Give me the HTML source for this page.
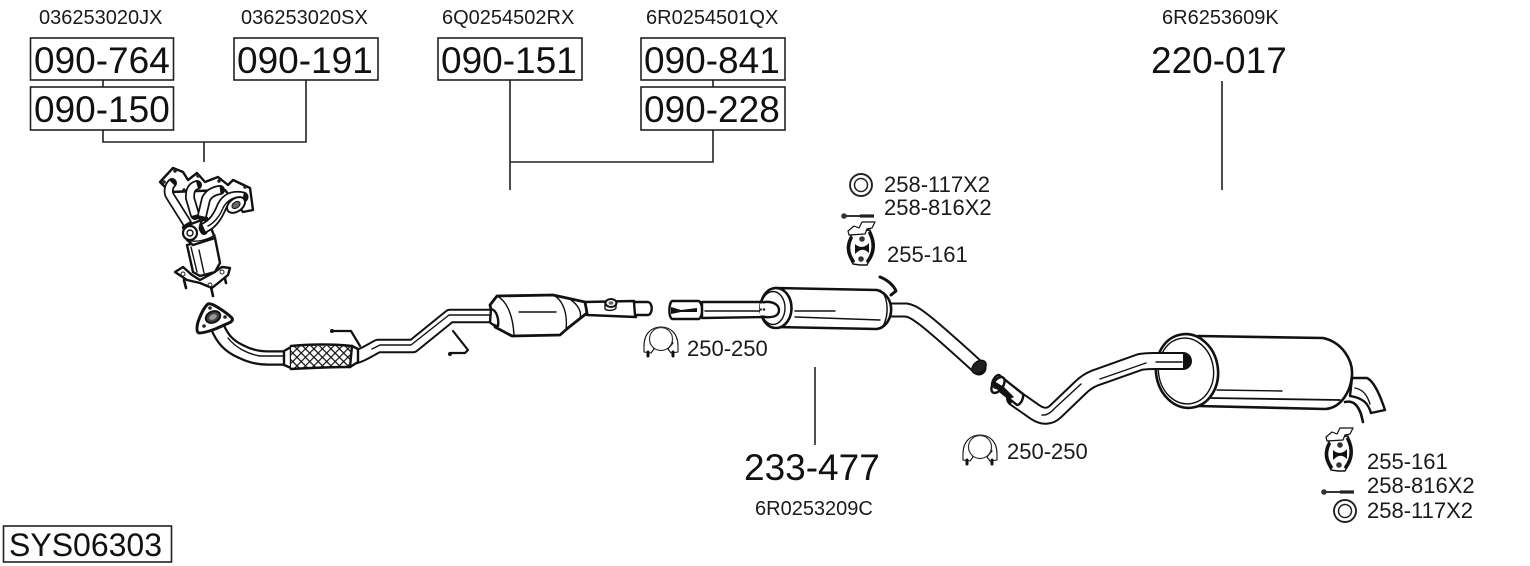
<!DOCTYPE html>
<html><head><meta charset="utf-8"><style>
html,body{margin:0;padding:0;background:#fff}
svg{display:block}
text{font-family:"Liberation Sans",Arial,sans-serif;fill:#1a1a1a}
.b{font-size:37px;fill:#111}
.s{font-size:20px}
.m{font-size:22px}
.box{fill:#fff;stroke:#222;stroke-width:1.6}
.ln{fill:none;stroke:#222;stroke-width:1.6}
.o{fill:#fff;stroke:#111;stroke-width:2.4;stroke-linejoin:round;stroke-linecap:round}
.t{fill:none;stroke:#111;stroke-width:1.4;stroke-linecap:round;stroke-linejoin:round}
.k{fill:none;stroke:#111;stroke-linejoin:round;stroke-linecap:round}
.w{fill:none;stroke:#fff;stroke-linejoin:round}
</style></head><body>
<svg width="1530" height="566" viewBox="0 0 1530 566" xmlns="http://www.w3.org/2000/svg">
<defs>
<pattern id="mesh" width="6" height="6" patternUnits="userSpaceOnUse" patternTransform="rotate(45)">
<rect width="6" height="6" fill="#fff"/><path d="M0 0H6M0 0V6" stroke="#111" stroke-width="2.4"/>
</pattern>
<symbol id="clamp" overflow="visible">
<path class="o" style="stroke-width:1.1" d="M-17 6C-17 -8 -8 -13 0 -13C8 -13 17 -8 17 6L17 12L10 13L7 9L12 3C8 -6 -4 -8 -10 3L-7 9L-10 13L-17 12Z"/>
<circle cx="0" cy="-1" r="11.500" fill="#fff" stroke="#333" stroke-width="1.200"/>
<path class="k" stroke-width="3" d="M-13 12V16M12 12V16"/>
</symbol>
<symbol id="hanger" overflow="visible">
<path class="o" style="stroke-width:1.400" d="M-9 -12C-15 -2 -15 10 -9 20L-2 21H5C10 12 14 0 8 -14Z"/>
<path class="o" style="stroke-width:1.200" d="M-14 -13L-8 -18L-3 -16L0 -22H13L10 -16L5 -15L3 -10L-13 -9Z"/>
<circle cx="0" cy="-5" r="2.800" fill="#333"/><circle cx="-1" cy="15" r="2.800" fill="#333"/>
<path d="M-7 0C-3 4 3 4 7 -1L7 9C2 4 -2 5 -7 10Z" fill="#111"/>
<path class="k" stroke-width="3.600" d="M-11 -6C-15 2 -14 10 -9 17M8 -11C13 -1 12 9 6 17"/>
</symbol>
<symbol id="bolt" overflow="visible">
<circle cx="0" cy="0" r="2.800" fill="#333"/>
<path d="M0 0H30" stroke="#333" stroke-width="2"/><path d="M16 0H30" stroke="#222" stroke-width="3.200"/>
</symbol>
<symbol id="washer" overflow="visible">
<circle r="11" fill="#fff" stroke="#222" stroke-width="1.900"/><circle r="6.500" fill="#fff" stroke="#222" stroke-width="1.500"/>
</symbol>
<clipPath id="fx"><path d="M291 346H352L350 368H291Z"/></clipPath>
</defs>

<!-- leaders -->
<path class="ln" d="M103 80V87M103 130V142H306V80M204 142V162M510 80V190M510 162H713V130M713 80V87M1222 81V190M815 367V445"/>

<!-- boxes -->
<rect class="box" x="30.500" y="38" width="143" height="42"/>
<rect class="box" x="30.500" y="87" width="143" height="43"/>
<rect class="box" x="234" y="38" width="144" height="42"/>
<rect class="box" x="438" y="38" width="144" height="42"/>
<rect class="box" x="641" y="38" width="144" height="42"/>
<rect class="box" x="641" y="87" width="144" height="43"/>
<rect class="box" x="3.500" y="526" width="168" height="36"/>

<text class="b" x="34" y="73">090-764</text>
<text class="b" x="34" y="122">090-150</text>
<text class="b" x="237" y="73">090-191</text>
<text class="b" x="441" y="73">090-151</text>
<text class="b" x="644" y="73">090-841</text>
<text class="b" x="644" y="122">090-228</text>
<text class="b" x="1151" y="73">220-017</text>
<text class="b" x="744" y="480">233-477</text>
<text x="9" y="556" style="font-size:32px;fill:#111">SYS06303</text>

<text class="s" x="39" y="24">036253020JX</text>
<text class="s" x="241" y="24">036253020SX</text>
<text class="s" x="442" y="24">6Q0254502RX</text>
<text class="s" x="646" y="24">6R0254501QX</text>
<text class="s" x="1162" y="24">6R6253609K</text>
<text class="s" x="755" y="515">6R0253209C</text>

<text class="m" x="884" y="192">258-117X2</text>
<text class="m" x="884" y="215">258-816X2</text>
<text class="m" x="887" y="262">255-161</text>
<text class="m" x="687" y="356">250-250</text>
<text class="m" x="1007" y="459">250-250</text>
<text class="m" x="1367" y="469">255-161</text>
<text class="m" x="1367" y="493">258-816X2</text>
<text class="m" x="1367" y="518">258-117X2</text>

<!-- manifold -->
<path class="k" stroke-width="2.600" d="M184 280L186 288M224 274L226 283M211 287L213 296"/>
<path class="o" d="M175 272L183 267L192 275L200 280L213 273L222 267L230 268L228 275L212 288L200 283L187 280Z"/>
<path class="o" d="M187 245L215 238L220 263L215 272L200 276L193 272Z"/>
<path class="t" d="M191 247L197 272M199 250L204 273"/>
<path class="o" d="M160 182L173 168L183 172L188 180L197 173L205 182L218 177L228 185L233 180L250 188L253 210L243 212L225 190L170 192Z"/>
<path class="k" stroke-width="10" d="M172 183C168 187 168 193 170 196L187 223"/>
<path class="w" stroke-width="6.500" d="M172 183C168 187 168 193 170 196L187 223"/>
<path class="k" stroke-width="10" d="M197 185C190 187 190 193 190 198L195 215"/>
<path class="w" stroke-width="6.500" d="M197 185C190 187 190 193 190 198L195 215"/>
<path class="k" stroke-width="10" d="M220 190C212 191 208 195 206 199L202 216"/>
<path class="w" stroke-width="6.500" d="M220 190C212 191 208 195 206 199L202 216"/>
<path class="o" d="M183 227L207 218L215 238L193 245L187 240Z"/>
<path class="t" d="M187 240C195 243 208 240 215 235"/>
<circle cx="190" cy="233" r="7" fill="#fff" stroke="#111" stroke-width="2.200"/><circle cx="190" cy="233" r="3" fill="none" stroke="#111" stroke-width="1.400"/>
<ellipse cx="204" cy="227" rx="4" ry="7" fill="#fff" stroke="#111" stroke-width="2"/>
<path class="k" stroke-width="11" d="M243 197C233 195 226 198 222 206C218 216 213 224 204 228"/>
<path class="w" stroke-width="7.500" d="M243 197C233 195 226 198 222 206C218 216 213 224 204 228"/>
<path class="t" d="M240 197C232 197 226 202 223 208C220 216 214 223 208 226"/>
<ellipse cx="236" cy="205" rx="10" ry="6.500" transform="rotate(-35 236 205)" fill="#fff" stroke="#111" stroke-width="2"/>
<ellipse cx="236" cy="205" rx="4.500" ry="3" transform="rotate(-35 236 205)" fill="#666" stroke="#111"/>
<circle cx="175" cy="171" r="1.800" fill="#222"/><circle cx="164" cy="182" r="1.800" fill="#222"/><circle cx="198" cy="176" r="1.800" fill="#222"/><circle cx="219" cy="181" r="1.800" fill="#222"/><circle cx="245" cy="187" r="1.800" fill="#222"/><circle cx="184" cy="190" r="1.800" fill="#222"/>
<circle cx="183" cy="274" r="2" fill="none" stroke="#222"/><circle cx="222" cy="272" r="2" fill="none" stroke="#222"/><circle cx="210" cy="285" r="2" fill="none" stroke="#222"/>

<!-- front pipe -->
<path class="k" stroke-width="15.500" d="M217 326C222 338 228 346 242 352C250 356 258 358 268 358H290"/>
<path class="w" stroke-width="11" d="M217 326C222 338 228 346 242 352C250 356 258 358 268 358H290"/>
<path class="t" d="M228 338C236 348 248 354 260 356H285"/>
<path class="o" d="M208 304C212 302 228 314 232 318C234 322 228 323 222 326C214 330 204 333 199 333C196 332 197 326 198 322C200 316 204 307 208 304Z" style="stroke-width:3"/>
<ellipse cx="213" cy="317" rx="7.500" ry="5.500" transform="rotate(-25 213 317)" fill="#444" stroke="#111" stroke-width="2"/>
<ellipse cx="213" cy="317" rx="4" ry="2.500" transform="rotate(-25 213 317)" fill="#999"/>
<circle cx="210" cy="308" r="1.800" fill="#222"/><circle cx="225" cy="317" r="1.800" fill="#222"/><circle cx="204" cy="326" r="1.800" fill="#222"/>

<!-- mid pipe -->
<path class="k" stroke-width="14.500" d="M352 358C362 356 370 350 378 346L413 346L450 316H493"/>
<path class="w" stroke-width="10.500" d="M352 358C362 356 370 350 378 346L413 346L450 316H493"/>
<path class="t" d="M372 349L380 345H411L449 315H490"/>
<path class="k" stroke-width="2.200" d="M332 331H351L360 346"/><circle cx="332" cy="331" r="2" fill="#111"/>
<path class="k" stroke-width="2.200" d="M453 331L468 350L465 353H450"/><circle cx="450" cy="354" r="2" fill="#111"/>

<!-- flex -->
<path class="o" d="M284 351L291 347V368L284 365Z"/>
<rect x="291" y="346" width="61" height="22" fill="url(#mesh)" clip-path="url(#fx)"/>
<path class="k" stroke-width="2.600" d="M291 346C310 344 335 344 352 346M291 369C310 368 335 367 350 367"/>
<path class="o" d="M352 346L358 349V362L350 367Z"/>

<!-- cat -->
<path class="o" d="M585 302L634 301L636 317L587 315Z"/>
<path class="o" d="M634 302H648C653 303 653 314 648 315H635Z"/>
<path class="o" d="M490 305L497 296L553 295L585 302L587 313L568 328L560 335L512 336L495 327Z" style="stroke-width:2.800"/>
<path class="o" d="M491 309C497 310 499 320 498 326C495 326 491 324 490 322Z"/>
<path class="t" d="M497 296C505 300 513 312 514 336M553 295C562 299 568 312 566 330M571 300C578 305 582 312 580 318M519 312H556"/>
<ellipse cx="611" cy="303" rx="5.500" ry="4" fill="#fff" stroke="#111" stroke-width="2"/><ellipse cx="611" cy="303" rx="2.500" ry="1.800" fill="#666"/>
<path class="t" d="M605 303V309C607 311 614 311 616 308V303"/>

<use href="#clamp" x="661" y="340"/>

<!-- mid muffler -->
<path class="o" d="M702 302H767V317L702 318Z"/>
<path class="t" d="M705 311H760"/>
<path class="o" d="M672 301H699C703 304 703 316 699 319H672C668 316 669 303 672 301Z"/>
<path d="M671 307L681 310L697 308V312L681 312L671 314Z" fill="#111"/>
<path class="k" stroke-width="3" d="M880 277C888 280 894 286 896 291L891 295"/>
<path class="k" stroke-width="15" d="M888 310H906C914 311 922 316 979 368"/>
<path class="w" stroke-width="11" d="M888 310H906C914 311 922 316 979 368"/>
<ellipse cx="979" cy="367" rx="8" ry="5.500" transform="rotate(-40 979 367)" fill="#222" stroke="#111" stroke-width="1.500"/>
<path class="o" d="M775 288L877 290C887 293 892 302 891 312C890 321 884 328 877 329L775 327Z" style="stroke-width:2.600"/>
<path class="t" d="M795 311H835M795 317L880 320"/>
<path class="t" d="M880 290C888 296 890 315 882 328"/>
<ellipse cx="776" cy="308" rx="15.500" ry="20" fill="#fff" stroke="#111" stroke-width="2.600"/>
<ellipse cx="773" cy="308" rx="12" ry="16.500" fill="#fff" stroke="#111" stroke-width="1.400"/>
<path class="o" d="M764 302C775 301 779 306 779 310C779 315 775 318 764 317Z"/>
<path class="w" stroke-width="5" d="M760 306H768M760 313H768"/>
<path class="k" stroke-width="2" d="M760 302H766M760 317H766"/>

<use href="#washer" x="861" y="185"/>
<use href="#bolt" x="844" y="216"/>
<use href="#hanger" x="862" y="244"/>

<!-- rear muffler -->
<path class="o" d="M1352 378H1367C1375 382 1381 398 1385 410L1371 413C1368 403 1363 398 1350 396Z"/>
<path class="t" d="M1355 388C1365 390 1368 398 1370 404"/>
<path class="k" stroke-width="2.600" d="M1345 402C1354 400 1358 406 1361 414L1363 422"/>
<path class="o" d="M1198 336L1323 338C1342 342 1353 360 1352 375C1351 390 1342 408 1325 409L1198 406Z" style="stroke-width:2.600"/>
<path class="t" d="M1217 390L1282 391"/>
<path class="k" stroke-width="1.800" d="M1210 398L1340 400"/>
<ellipse cx="1187" cy="371" rx="31" ry="37" transform="rotate(-8 1187 371)" fill="#fff" stroke="#111" stroke-width="2.600"/>
<ellipse cx="1186" cy="371" rx="27.500" ry="33" transform="rotate(-8 1186 371)" fill="#fff" stroke="#111" stroke-width="1.400"/>

<!-- rear pipe -->
<path class="k" stroke-width="18" d="M1015 398L1035 412Q1047 420 1056 411L1080 388Q1087 381 1095 378L1140 362Q1146 361 1155 361L1183 361"/>
<path class="w" stroke-width="14" d="M1015 398L1035 412Q1047 420 1056 411L1080 388Q1087 381 1095 378L1140 362Q1146 361 1155 361L1183 361"/>
<path class="t" d="M1042 415Q1048 416 1055 408L1081 384M1100 379L1146 363M1156 362H1182"/>

<!-- rear pipe socket -->
<path class="o" d="M992 385C992 380 996 375 999 375L1023 394C1024 399 1020 405 1017 405Z"/>
<ellipse cx="998" cy="385" rx="5" ry="9" transform="rotate(35 998 385)" fill="#fff" stroke="#111" stroke-width="2.400"/>
<path d="M994 381L1004 387L1014 397L1010 399L1001 391L993 388Z" fill="#111"/>
<use href="#clamp" x="980" y="448"/>

<use href="#hanger" x="1340" y="450"/>
<use href="#bolt" x="1324" y="492"/>
<use href="#washer" x="1345" y="511"/>
</svg>
</body></html>
